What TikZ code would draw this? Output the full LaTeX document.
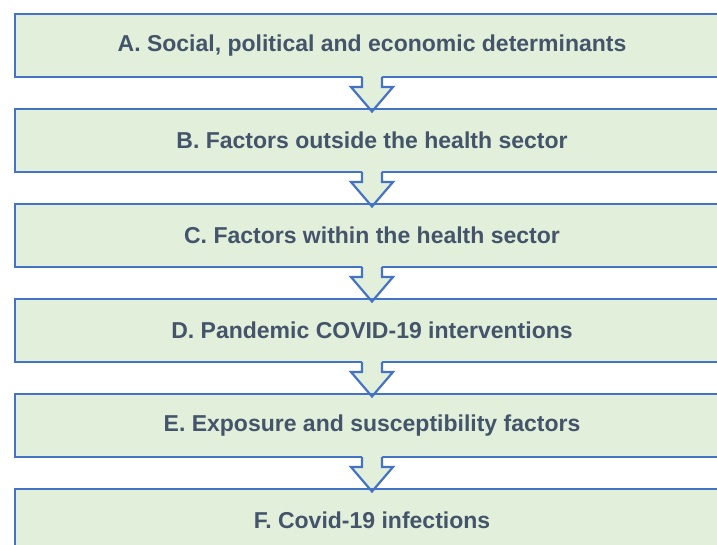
\documentclass[tikz,border=0pt]{standalone}
\usepackage{fontspec}
\setmainfont{Liberation Sans}
\usetikzlibrary{positioning}
\usetikzlibrary{calc}
\definecolor{boxgreen}{HTML}{E2EFDA}
\definecolor{boxblue}{HTML}{4472C4}
\definecolor{textslate}{HTML}{44546A}
\tikzset{level box/.style={draw=boxblue,
                           fill=boxgreen,
                           line width=2.2pt,
                           minimum width=714pt,
                           minimum height=63pt,
                           inner sep=0pt,
                           outer sep=0pt,
                           text=textslate,
                           font=\fontsize{23}{27}\selectfont\bfseries}}
\tikzset{box edge/.style={draw=boxblue,
                          line width=2.2pt}}
\tikzset{flow arrow/.style={draw=boxblue,
                            line width=2.2pt,
                            line join=miter}}

\begin{document}
\begin{tikzpicture}[x=1pt,y=1pt]
      \useasboundingbox (0,0) rectangle (717,-545);
      \clip (0,0) rectangle (717,-545);

      % levels, top to bottom
      \node [level box] (A) at (372,-45.5) {A. Social, political and economic determinants};
      \node [level box,below=32pt of A] (B) {B. Factors outside the health sector};
      \node [level box,below=32pt of B] (C) {C. Factors within the health sector};
      \node [level box,below=32pt of C] (D) {D. Pandemic COVID-19 interventions};
      \node [level box,below=32pt of D] (E) {E. Exposure and susceptibility factors};
      \node [level box,below=32pt of E] (F) {F. Covid-19 infections};

      % block arrows between levels, open at the top
      \foreach \t/\b in {A/B,B/C,C/D,D/E,E/F}
      {
      \fill [boxgreen] ($(\t.south)+(-10,2)$) -- ++(0,-12) -- ++(-11,0)
      -- ($(\b.north)+(0,-2.5)$) -- ($(\t.south)+(21,-10)$) -- ++(-11,0)
      -- ($(\t.south)+(10,2)$) -- cycle;
      \draw [flow arrow] ($(\t.south)+(-10,0)$) -- ++(0,-10) -- ++(-11,0)
      -- ($(\b.north)+(0,-2.5)$) -- ($(\t.south)+(21,-10)$) -- ++(-11,0)
      -- ($(\t.south)+(10,0)$);
      \draw [box edge] (\b.north west) -- (\b.north east);
      }

\end{tikzpicture}
\end{document}
